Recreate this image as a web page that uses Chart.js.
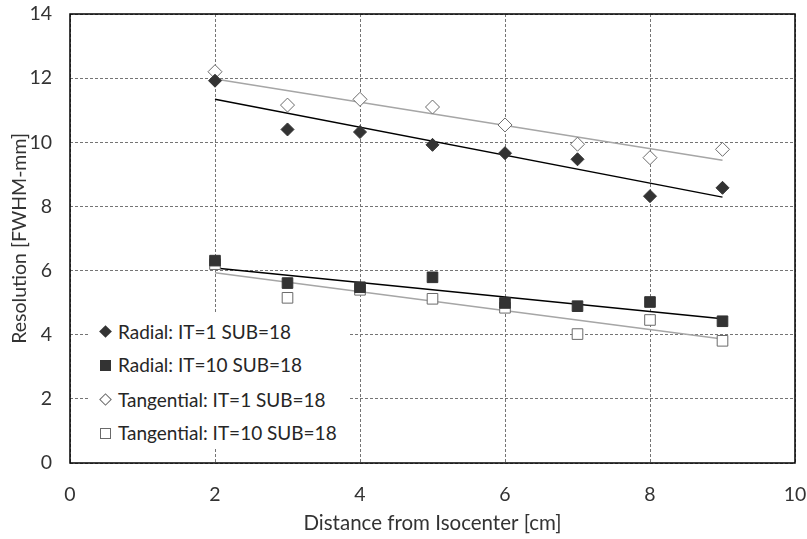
<!DOCTYPE html>
<html>
<head>
<meta charset="utf-8">
<script src="https://cdn.jsdelivr.net/npm/chart.js@4.4.1/dist/chart.umd.min.js"></script>
<style>
  html, body { margin: 0; padding: 0; background: #fff; }
  #wrap { position: relative; width: 807px; height: 539px; }
  #legend {
    position: absolute; left: 88px; top: 312px; width: 260px; height: 135px;
    background: #fff; font-family: Lato, sans-serif; font-size: 19px; color: #262626;
  }
  .legend-item { position: absolute; left: 0; width: 260px; height: 24px; line-height: 24px; white-space: nowrap; }
  .legend-item .txt { position: absolute; left: 30px; top: 0; }
  .mark { position: absolute; box-sizing: border-box; }
  .diamond { width: 9px; height: 9px; left: 13px; top: 7px; transform: rotate(45deg); }
  .square { width: 11px; height: 11px; left: 12px; top: 7px; }
  .filled { background: #333; }
  .open { background: #fff; border: 1px solid #6a6a6a; }
</style>
</head>
<body>
<div id="wrap">
  <canvas id="chart" width="807" height="539"></canvas>
  <div id="legend"></div>
</div>
<script>
'use strict';

// ── Data ──────────────────────────────────────────────────────────────────────

const distance       = [2, 3, 4, 5, 6, 7, 8, 9];
const radialIT1      = [11.92, 10.40, 10.32, 9.92, 9.66, 9.47, 8.32, 8.58];
const radialIT10     = [6.31, 5.61, 5.48, 5.79, 4.99, 4.89, 5.02, 4.42];
const tangentialIT1  = [12.20, 11.16, 11.34, 11.10, 10.54, 9.94, 9.52, 9.78];
const tangentialIT10 = [6.20, 5.15, 5.40, 5.12, 4.84, 4.02, 4.46, 3.81];

// linear trend lines, end points at x = 2 and x = 9
const trendX              = [2, 9];
const radialIT1Trend      = [11.34, 8.29];
const tangentialIT1Trend  = [11.97, 9.44];
const radialIT10Trend     = [6.08, 4.50];
const tangentialIT10Trend = [5.93, 3.87];

const xTicks = [0, 2, 4, 6, 8, 10];
const yTicks = [0, 2, 4, 6, 8, 10, 12, 14];

const seriesNames = [
  'Radial: IT=1 SUB=18',
  'Radial: IT=10 SUB=18',
  'Tangential: IT=1 SUB=18',
  'Tangential: IT=10 SUB=18',
];

// ── Chart ─────────────────────────────────────────────────────────────────────

const FONT = 'Lato';
const TEXT = '#333333';

function toPoints(xs, ys) {
  return xs.map((x, i) => ({ x, y: ys[i] }));
}

function markers(label, ys, style, filled, radius, order) {
  return {
    label,
    data: toPoints(distance, ys),
    showLine: false,
    pointStyle: style,
    pointRadius: radius,
    pointHoverRadius: radius,
    pointBackgroundColor: filled ? '#333333' : '#ffffff',
    pointBorderColor: filled ? '#333333' : '#6a6a6a',
    pointBorderWidth: 1,
    order,
  };
}

function trend(ys, color) {
  return {
    label: 'trend',
    data: toPoints(trendX, ys),
    showLine: true,
    borderColor: color,
    borderWidth: 1.5,
    pointRadius: 0,
    pointHoverRadius: 0,
    order: 10,
  };
}

// fixed axis boxes so the plot area sits where it does in the reference
function fixBox(size) {
  return s => {
    if (s.isHorizontal()) s.height = size; else s.width = size;
    s.paddingTop = s.paddingBottom = s.paddingLeft = s.paddingRight = 0;
  };
}

const framePlugin = {
  id: 'frame',
  afterDatasetsDraw(chart) {
    const { ctx, chartArea: a } = chart;
    ctx.save();
    ctx.strokeStyle = '#000';
    ctx.lineWidth = 1.5;
    ctx.strokeRect(a.left, a.top, a.right - a.left, a.bottom - a.top);
    ctx.restore();
  },
};

const ctx = document.getElementById('chart').getContext('2d');
new Chart(ctx, {
  type: 'scatter',
  data: {
    datasets: [
      markers(seriesNames[0], radialIT1, 'rectRot', true, 6.5, 1),
      markers(seriesNames[1], radialIT10, 'rect', true, 7.5, 1),
      markers(seriesNames[2], tangentialIT1, 'rectRot', false, 7, 2),
      markers(seriesNames[3], tangentialIT10, 'rect', false, 7.5, 2),
      trend(radialIT1Trend, '#000000'),
      trend(radialIT10Trend, '#000000'),
      trend(tangentialIT1Trend, '#a6a6a6'),
      trend(tangentialIT10Trend, '#a6a6a6'),
    ],
  },
  options: {
    responsive: false,
    animation: false,
    layout: { padding: { top: 14, right: 12, left: 0, bottom: 0 } },
    plugins: {
      legend: { display: false },
      tooltip: { enabled: false },
    },
    scales: {
      x: {
        type: 'linear',
        min: 0,
        max: 10,
        afterFit: fixBox(76),
        afterBuildTicks: s => { s.ticks = xTicks.map(v => ({ value: v })); },
        grid: { color: '#747474', lineWidth: 1, drawTicks: false },
        border: { display: false, dash: [3, 2] },
        ticks: { color: TEXT, padding: 20, font: { family: FONT, size: 19.5 } },
        title: {
          display: true,
          text: 'Distance from Isocenter [cm]',
          color: TEXT,
          padding: { top: 0, bottom: 3 },
          font: { family: FONT, size: 20.5 },
        },
      },
      y: {
        type: 'linear',
        min: 0,
        max: 14,
        afterFit: fixBox(70),
        afterBuildTicks: s => { s.ticks = yTicks.map(v => ({ value: v })); },
        grid: { color: '#747474', lineWidth: 1, drawTicks: false },
        border: { display: false, dash: [3, 2] },
        ticks: { color: TEXT, padding: 18, font: { family: FONT, size: 19.5 } },
        title: {
          display: true,
          text: 'Resolution [FWHM-mm]',
          color: TEXT,
          padding: { top: 8, bottom: 0 },
          font: { family: FONT, size: 19.5 },
        },
      },
    },
  },
  plugins: [framePlugin],
});

// ── Legend (HTML, sits inside the plot area) ──────────────────────────────────

const legendEl = document.getElementById('legend');
const legendMarks = [
  'mark diamond filled',
  'mark square filled',
  'mark diamond open',
  'mark square open',
];
const legendRows = [8, 41, 76, 109];

seriesNames.forEach((name, idx) => {
  const item = document.createElement('div');
  item.className = 'legend-item';
  item.style.top = `${legendRows[idx]}px`;
  item.innerHTML = `<span class="${legendMarks[idx]}"></span><span class="txt">${name}</span>`;
  legendEl.appendChild(item);
});
</script>
</body>
</html>
